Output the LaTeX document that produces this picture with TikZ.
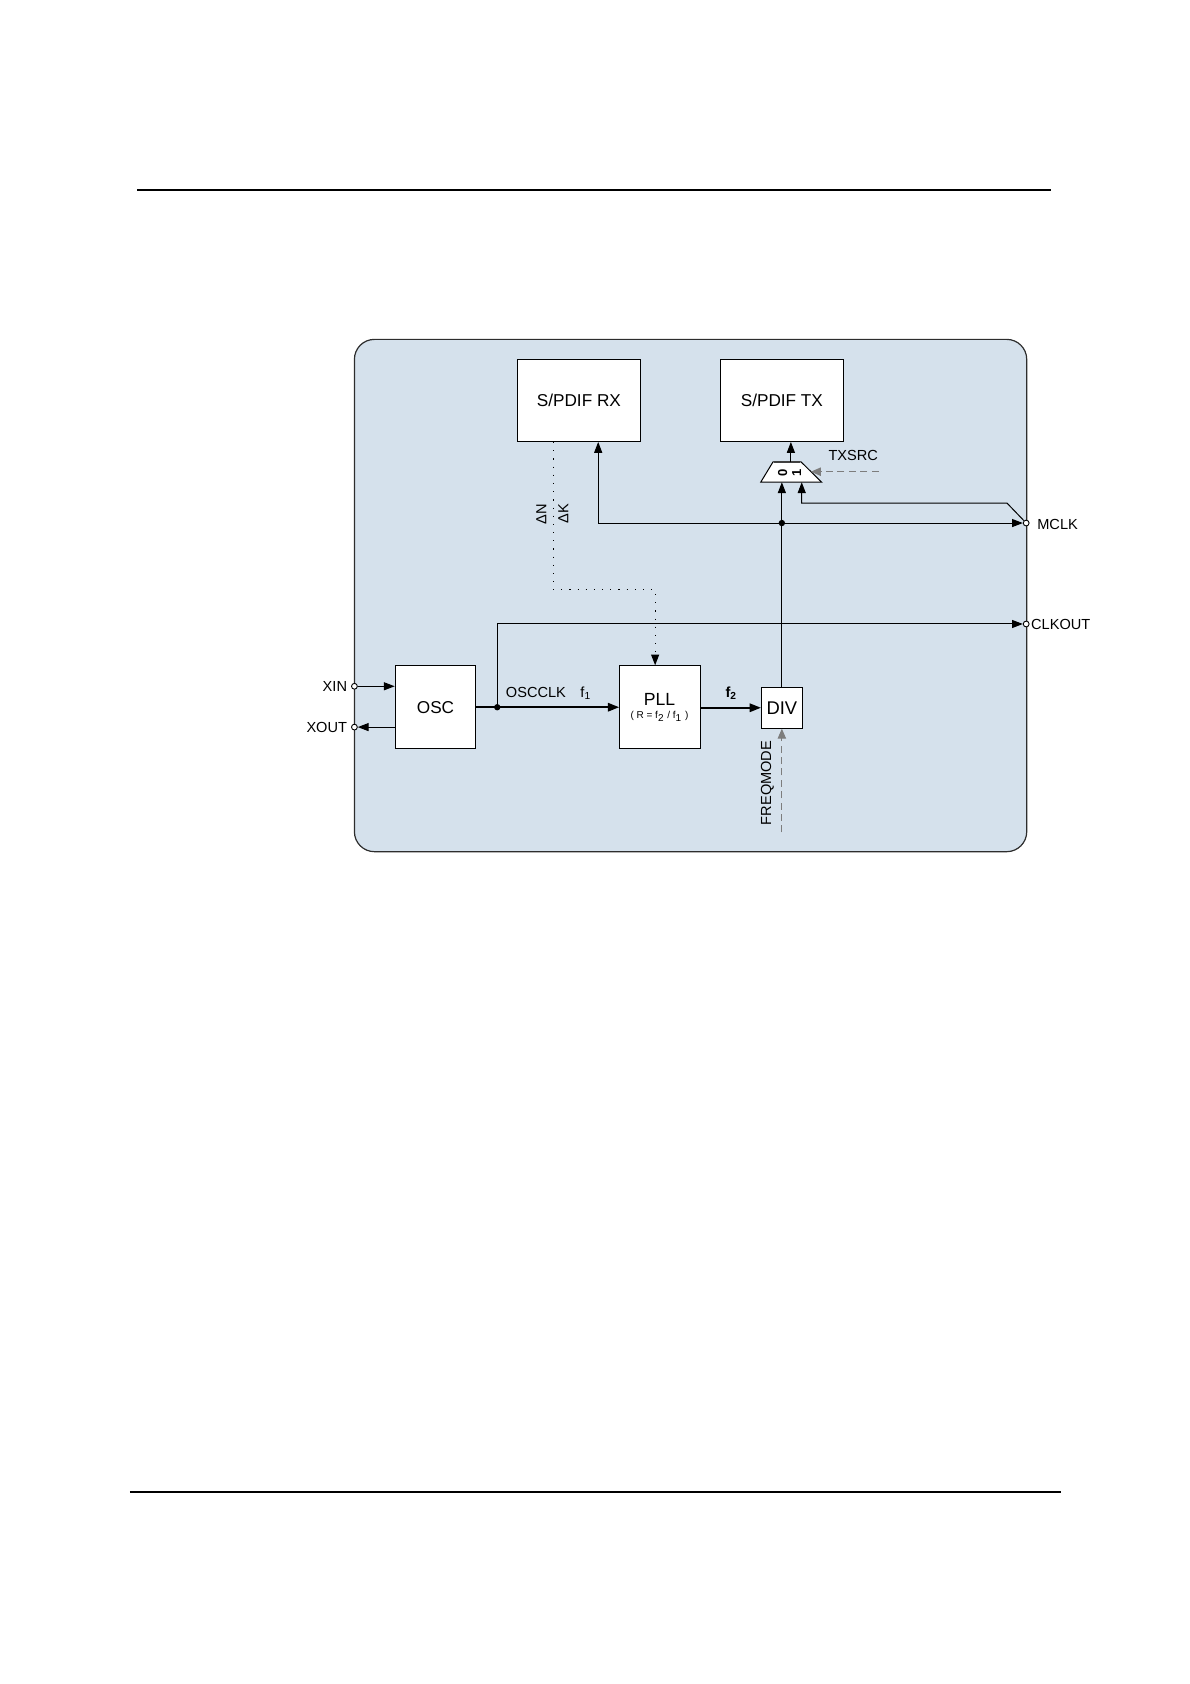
\documentclass[tikz,border=0pt]{standalone}
\usepackage{fontspec}
\setmainfont{Liberation Sans}
\usetikzlibrary{arrows.meta}
\definecolor{framefill}{RGB}{213,225,236}
\definecolor{framedraw}{RGB}{45,45,45}
\definecolor{dashgray}{RGB}{125,125,125}
\begin{document}
\begin{tikzpicture}[x=0.53741pt,y=-0.53741pt,
  box/.style={draw, line width=0.55pt, fill=white, inner sep=0pt, font=\fontsize{8.6}{10}\selectfont},
  lbl/.style={inner sep=0pt, font=\fontsize{7.3}{9}\selectfont},
  wire/.style={line width=0.5pt},
  tip/.tip={Triangle[length=5.4pt,width=4pt]},
  arr/.style={wire, -tip},
  thickarr/.style={line width=0.9pt, -{Triangle[length=5.6pt,width=4.2pt]}},
  dasharr/.style={dashgray, line width=0.5pt, dash pattern=on 3.5pt off 2.2pt, -{Triangle[length=5pt,width=4.2pt]}},
  dotarr/.style={line width=0.6pt, dash pattern=on 0.6pt off 3.5pt, -tip},
  pinc/.style={circle, draw, fill=white, inner sep=0pt, minimum size=2.9pt, line width=0.45pt},
  dotc/.style={circle, fill, inner sep=0pt, minimum size=3.2pt}]
\useasboundingbox (0,0) rectangle (1108,1568);

% page rules
\draw[line width=0.7pt] (128,177) -- (979,177);
\draw[line width=1.2pt] (121,1389) -- (988,1389);

% frame
\draw[framedraw, fill=framefill, line width=0.6pt, rounded corners=10pt] (330,316) rectangle (956,793);

% blocks
\node[box, minimum width=61.26pt, minimum height=40.84pt] (rx) at (539,373) {S/PDIF RX};
\node[box, minimum width=61.26pt, minimum height=40.84pt] (tx) at (728,373) {S/PDIF TX};
\node[box, minimum width=40.3pt, minimum height=41.4pt] (osc) at (405.5,658.5) {OSC};
\node[box, minimum width=40.3pt, minimum height=41.4pt] (pll) at (614.5,658.5) {};
\node[inner sep=0pt, font=\fontsize{8.8}{10}\selectfont] (plltxt) at (614,651) {PLL};
\node[inner sep=0pt, font=\fontsize{5}{6}\selectfont] (pllr) at (614,667) {( R = f\textsubscript{2} / f\textsubscript{1} )};
\node[box, minimum width=20.4pt, minimum height=20.4pt, font=\fontsize{9.2}{10}\selectfont] (div) at (728,659) {DIV};

% mux
\draw[fill=white, line width=0.5pt] (708.3,449) -- (719.8,430) -- (745.8,430) -- (765.1,449) -- cycle;
\draw[line width=1pt, black!75] (720.5,430) -- (745.1,430);
\node[inner sep=0pt, rotate=90, font=\fontsize{6.5}{7}\selectfont\bfseries] (m0) at (728.8,440) {0};
\node[inner sep=0pt, rotate=90, font=\fontsize{6.5}{7}\selectfont\bfseries] (m1) at (741.8,440) {1};
\coordinate (mux0) at (728.4,449);
\coordinate (mux1) at (746.5,449);
\coordinate (muxout) at (736.4,430);
\coordinate (muxtip) at (755,439.2);

% pins
\node[pinc] (mclk) at (955.5,487) {};
\node[pinc] (clkout) at (955.5,581) {};
\node[pinc] (xin) at (330,639) {};
\node[pinc] (xout) at (330,677) {};

% labels
\node[lbl, anchor=west] (mclkl) at (965.5,488) {MCLK};
\node[lbl, anchor=west] (clkoutl) at (959.8,581.5) {CLKOUT};
\node[lbl, anchor=east] (xinl) at (323.5,639) {XIN};
\node[lbl, anchor=east] (xoutl) at (323.5,677.5) {XOUT};
\node[lbl] (txsrc) at (794.5,424.5) {TXSRC};
\node[lbl] (oscclk) at (499,645) {OSCCLK};
\node[lbl] (f1) at (545.5,645.5) {f\textsubscript{1}};
\node[lbl, font=\fontsize{7.3}{9}\selectfont\bfseries] (f2) at (681,645.5) {f\textsubscript{2}};
\node[lbl, rotate=90] (dn) at (504,478.5) {ΔN};
\node[lbl, rotate=90] (dk) at (524.5,478.5) {ΔK};
\node[lbl, rotate=90] (freq) at (714.5,729) {FREQMODE};

% connectors
\coordinate (mj) at (728,487);
\coordinate (oj) at (463,658.5);
\coordinate (bend) at (937.6,468.4);
\coordinate (txsrcstart) at (818,439.2);
\coordinate (dotcorner) at (610,549);
\coordinate (freqstart) at (728,775);

\draw[wire, tip-tip] ([xshift=9.67pt]rx.south) |- (mclk);
\draw[arr] (div.north) -- (div.north |- mux0);
\draw[arr] (mclk) -- (bend) -| (mux1);
\draw[arr] (muxout) -- (muxout |- tx.south);
\draw[dasharr] (txsrcstart) -- (muxtip);
\draw[dotarr] ([xshift=-12.9pt]rx.south) |- (dotcorner) -- (dotcorner |- pll.north);
\draw[thickarr] (osc.east |- oj) -- (pll.west |- oj);
\draw[thickarr] (pll.east |- div.west) -- (div.west);
\draw[arr] (oj) |- (clkout);
\draw[arr] (xin) -- (osc.west |- xin);
\draw[arr] (osc.west |- xout) -- (xout);
\draw[dasharr] (freqstart) -- (div.south);

\node[dotc] (mjd) at (mj) {};
\node[dotc] (ojd) at (oj) {};
\end{tikzpicture}
\end{document}
